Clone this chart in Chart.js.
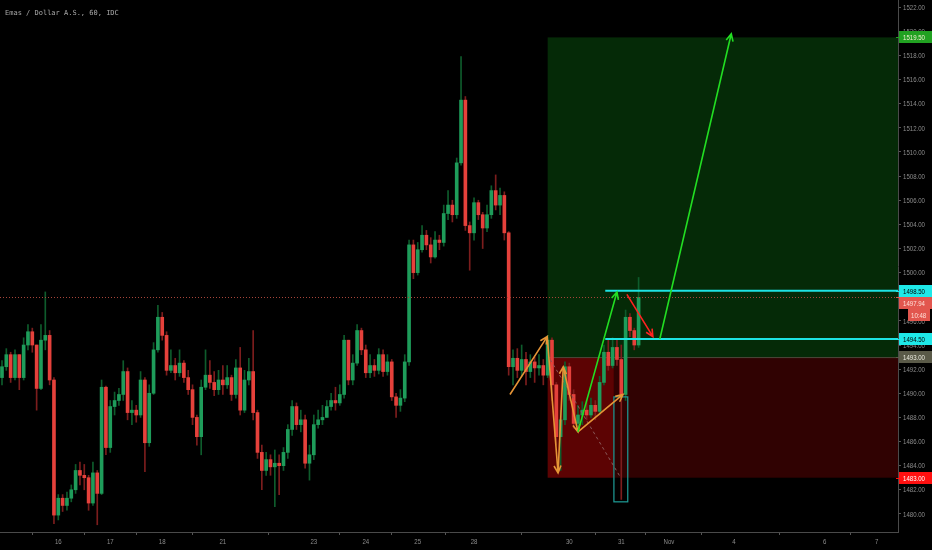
<!DOCTYPE html>
<html lang="id">
<head>
    <meta charset="UTF-8">
    <meta name="viewport" content="width=device-width, initial-scale=1.0">
    <title>Emas / Dollar A.S., 60, IDC</title>
    <style>
        html, body { margin: 0; padding: 0; background: #000; }
        canvas { display: block; }
    </style>
</head>
<body>
    <canvas id="grafico" width="932" height="550"></canvas>
</body>
</html>

<script src="https://cdn.jsdelivr.net/npm/chart.js"></script>
<script>
    // velas de 60 min, indice da barra 0..147
    var opens = [1491.3, 1492.2, 1493.2, 1491.3, 1493.2, 1491.3, 1494.0, 1495.1, 1494.0, 1490.4,
        1494.4, 1494.8, 1491.1, 1479.9, 1481.3, 1480.7, 1481.3, 1482.0, 1483.6, 1483.2,
        1483.0, 1480.9, 1483.4, 1481.7, 1490.5, 1485.5, 1488.9, 1489.4, 1489.9, 1491.8,
        1488.4, 1488.6, 1488.2, 1491.1, 1485.9, 1490.0, 1493.6, 1496.3, 1494.8, 1491.9,
        1492.3, 1491.7, 1492.5, 1491.3, 1490.3, 1488.0, 1486.4, 1490.5, 1491.5, 1490.9,
        1490.3, 1491.1, 1490.7, 1491.3, 1489.9, 1492.1, 1488.6, 1491.1, 1491.8, 1488.4,
        1485.1, 1483.6, 1484.5, 1483.9, 1484.2, 1484.0, 1485.1, 1487.0, 1488.9, 1487.4,
        1487.8, 1484.2, 1484.9, 1487.4, 1487.8, 1488.0, 1488.9, 1489.4, 1489.2, 1489.9,
        1494.4, 1491.1, 1492.5, 1495.2, 1493.6, 1491.7, 1492.3, 1491.9, 1493.2, 1491.8,
        1492.6, 1489.7, 1489.0, 1489.6, 1492.6, 1502.3, 1500.0, 1501.9, 1503.1, 1502.3,
        1501.3, 1502.7, 1502.5, 1504.9, 1505.6, 1504.8, 1509.1, 1514.3, 1503.9, 1503.3,
        1505.8, 1504.8, 1503.7, 1504.8, 1506.8, 1505.6, 1506.4, 1503.3, 1492.2, 1492.9,
        1491.9, 1492.8, 1491.8, 1492.6, 1492.1, 1492.3, 1491.5, 1494.4, 1490.7, 1486.4,
        1487.8, 1492.2, 1489.9, 1487.5, 1488.2, 1488.6, 1488.2, 1489.0, 1488.5, 1490.9,
        1493.4, 1492.3, 1493.8, 1492.8, 1489.9, 1496.3, 1495.2, 1494.0];

    var highs = [1492.7, 1493.7, 1493.4, 1493.6, 1493.2, 1494.6, 1495.7, 1495.4, 1494.0, 1495.7,
        1498.4, 1495.2, 1491.3, 1481.6, 1481.6, 1481.8, 1482.4, 1484.1, 1484.3, 1484.1,
        1483.2, 1484.3, 1483.6, 1491.1, 1490.6, 1489.4, 1490.1, 1490.4, 1492.7, 1492.1,
        1489.4, 1489.0, 1491.8, 1491.3, 1490.7, 1494.2, 1497.3, 1496.7, 1495.1, 1493.6,
        1492.9, 1493.6, 1492.7, 1491.9, 1490.7, 1488.2, 1491.1, 1493.6, 1492.7, 1491.8,
        1491.9, 1492.3, 1492.3, 1491.5, 1492.8, 1493.8, 1491.9, 1492.9, 1495.2, 1488.6,
        1485.7, 1485.1, 1484.9, 1485.3, 1484.9, 1485.5, 1487.4, 1489.4, 1489.2, 1488.6,
        1488.2, 1485.7, 1488.2, 1488.6, 1489.0, 1489.4, 1490.0, 1490.5, 1490.7, 1494.8,
        1494.4, 1493.2, 1495.7, 1495.4, 1494.0, 1493.2, 1492.8, 1493.7, 1493.6, 1493.2,
        1492.8, 1490.0, 1490.3, 1493.2, 1502.7, 1502.7, 1502.5, 1503.9, 1503.5, 1502.9,
        1503.4, 1503.1, 1505.6, 1506.8, 1506.0, 1509.5, 1517.9, 1514.6, 1504.2, 1506.2,
        1506.0, 1505.0, 1505.6, 1507.2, 1508.1, 1507.0, 1506.7, 1503.4, 1493.6, 1493.7,
        1494.0, 1493.4, 1493.2, 1493.0, 1493.2, 1492.8, 1494.8, 1494.6, 1490.9, 1488.6,
        1492.6, 1492.5, 1490.3, 1489.0, 1489.3, 1489.4, 1489.6, 1489.4, 1491.4, 1494.0,
        1494.4, 1494.6, 1494.4, 1494.0, 1496.9, 1496.6, 1495.4, 1499.6];

    var lows = [1490.7, 1491.9, 1490.9, 1491.1, 1490.3, 1491.1, 1493.6, 1493.4, 1488.6, 1490.3,
        1493.6, 1490.7, 1479.2, 1479.5, 1480.2, 1480.3, 1481.0, 1481.7, 1482.4, 1482.0,
        1480.3, 1480.7, 1479.1, 1481.6, 1484.9, 1485.1, 1488.2, 1489.0, 1489.4, 1487.8,
        1487.4, 1487.6, 1488.0, 1483.5, 1485.6, 1489.9, 1493.4, 1494.4, 1491.5, 1491.7,
        1491.1, 1491.4, 1490.9, 1489.9, 1487.4, 1485.7, 1484.9, 1490.3, 1490.4, 1489.8,
        1489.9, 1489.9, 1490.4, 1489.4, 1489.6, 1488.2, 1488.4, 1490.7, 1487.8, 1484.6,
        1482.0, 1483.2, 1483.2, 1480.6, 1481.6, 1483.6, 1484.6, 1486.5, 1487.0, 1486.8,
        1483.8, 1482.8, 1484.5, 1487.1, 1487.4, 1488.0, 1488.6, 1488.6, 1489.0, 1489.6,
        1490.7, 1490.7, 1492.3, 1493.2, 1491.3, 1491.3, 1491.4, 1491.6, 1491.4, 1491.5,
        1489.4, 1488.0, 1488.5, 1489.3, 1492.3, 1499.5, 1499.8, 1501.7, 1501.9, 1500.8,
        1501.2, 1501.9, 1502.2, 1504.4, 1504.2, 1504.5, 1508.9, 1503.5, 1500.2, 1502.7,
        1504.4, 1502.0, 1503.4, 1504.5, 1505.2, 1504.8, 1502.7, 1491.5, 1490.7, 1491.3,
        1491.4, 1490.7, 1491.3, 1490.9, 1491.5, 1490.7, 1491.3, 1489.4, 1485.7, 1483.6,
        1487.4, 1489.4, 1487.1, 1486.8, 1487.4, 1487.8, 1488.0, 1487.8, 1488.2, 1490.7,
        1491.9, 1492.1, 1492.3, 1481.2, 1489.4, 1494.7, 1493.6, 1493.8];

    var closes = [1492.2, 1493.2, 1491.3, 1493.2, 1491.3, 1494.0, 1495.1, 1494.0, 1490.4, 1494.4,
        1494.8, 1491.1, 1479.9, 1481.3, 1480.7, 1481.3, 1482.0, 1483.6, 1483.2, 1483.0,
        1480.9, 1483.4, 1481.7, 1490.5, 1485.5, 1488.9, 1489.4, 1489.9, 1491.8, 1488.4,
        1488.6, 1488.2, 1491.1, 1485.9, 1490.0, 1493.6, 1496.3, 1494.8, 1491.9, 1492.3,
        1491.7, 1492.5, 1491.3, 1490.3, 1488.0, 1486.4, 1490.5, 1491.5, 1490.9, 1490.3,
        1491.1, 1490.7, 1491.3, 1489.9, 1492.1, 1488.6, 1491.1, 1491.8, 1488.4, 1485.1,
        1483.6, 1484.5, 1483.9, 1484.2, 1484.0, 1485.1, 1487.0, 1488.9, 1487.4, 1487.8,
        1484.2, 1484.9, 1487.4, 1487.8, 1488.0, 1488.9, 1489.4, 1489.2, 1489.9, 1494.4,
        1491.1, 1492.5, 1495.2, 1493.6, 1491.7, 1492.3, 1491.9, 1493.2, 1491.8, 1492.6,
        1489.7, 1489.0, 1489.6, 1492.6, 1502.3, 1500.0, 1501.9, 1503.1, 1502.3, 1501.3,
        1502.7, 1502.5, 1504.9, 1505.6, 1504.8, 1509.1, 1514.3, 1503.9, 1503.3, 1505.8,
        1504.8, 1503.7, 1504.8, 1506.8, 1505.6, 1506.4, 1503.3, 1492.2, 1492.9, 1491.9,
        1492.8, 1491.8, 1492.6, 1492.1, 1492.3, 1491.5, 1494.4, 1490.7, 1486.4, 1487.8,
        1492.2, 1489.9, 1487.5, 1488.2, 1488.6, 1488.2, 1489.0, 1488.5, 1490.9, 1493.4,
        1492.3, 1493.8, 1492.8, 1489.9, 1496.3, 1495.2, 1494.0, 1497.94];

    // primeira barra de cada dia (eixo de tempo)
    var dayStarts = [13, 25, 37, 51, 72, 84, 96, 109, 131, 143, 154, 169, 190, 202];
    var dayLabels = ['16', '17', '18', '21', '23', '24', '25', '28', '30', '31', 'Nov', '4', '6', '7'];

    // posicao long desenhada: entrada, alvo, stop
    var lastPrice = 1497.94;
    var entryPrice = 1493.00;
    var targetPrice = 1519.50;
    var stopPrice = 1483.00;
    var levelPrices = [1498.50, 1494.50];
    var positionBars = [126, 141.3];      // inicio da caixa, fim da parte vermelha clara
    var levelStartBar = 139.3;
    var spikeBox = [141.3, 144.5, 1489.7, 1481.0];

    // setas [barra1, preco1, barra2, preco2]
    var orangeArrows = [
        [117.3, 1489.9, 125.9, 1494.7],
        [125.9, 1494.7, 128.4, 1483.4],
        [128.4, 1483.4, 129.6, 1492.2],
        [129.6, 1492.2, 133.0, 1486.8],
        [133.0, 1486.8, 143.4, 1489.9]
    ];
    var greenArrows = [
        [133.0, 1486.8, 142.0, 1498.4],
        [151.9, 1494.5, 168.4, 1519.8]
    ];
    var redArrows = [
        [144.3, 1498.2, 150.3, 1494.7]
    ];
    var dashedLine = [126.6, 1492.8, 142.7, 1483.1];

    var sobe = function (i) { return closes[i] >= opens[i]; };
    var corpos = closes.map(function (c, i) { return { x: i, y: [opens[i], c] }; });
    var pavios = closes.map(function (c, i) { return { x: i, y: [lows[i], highs[i]] }; });

    var FONTE = '8px "Liberation Sans", Arial, sans-serif';

    // texto estreito, como o da plataforma
    function textoEstreito(ctx, txt, x, y) {
        ctx.save();
        ctx.translate(x, y);
        ctx.scale(0.76, 1);
        ctx.fillText(txt, 0, 0);
        ctx.restore();
    }

    function seta(ctx, x1, y1, x2, y2, cor) {
        var ang = Math.atan2(y2 - y1, x2 - x1);
        var tam = 8;
        ctx.strokeStyle = cor;
        ctx.lineWidth = 1.6;
        ctx.setLineDash([]);
        ctx.beginPath();
        ctx.moveTo(x1, y1);
        ctx.lineTo(x2, y2);
        ctx.moveTo(x2 - tam * Math.cos(ang - 0.45), y2 - tam * Math.sin(ang - 0.45));
        ctx.lineTo(x2, y2);
        ctx.lineTo(x2 - tam * Math.cos(ang + 0.45), y2 - tam * Math.sin(ang + 0.45));
        ctx.stroke();
    }

    var desenhos = {
        id: 'desenhos',
        beforeDraw: function (chart) {
            var ctx = chart.ctx;
            ctx.save();
            ctx.fillStyle = '#000';
            ctx.fillRect(0, 0, chart.width, chart.height);
            ctx.restore();
        },
        beforeDatasetsDraw: function (chart) {
            var ctx = chart.ctx, a = chart.chartArea, sx = chart.scales.x, sy = chart.scales.y;
            var x0 = sx.getPixelForValue(positionBars[0]);
            var xs = sx.getPixelForValue(positionBars[1]);
            var yT = sy.getPixelForValue(targetPrice);
            var yE = sy.getPixelForValue(entryPrice);
            var yS = sy.getPixelForValue(stopPrice);
            ctx.save();
            ctx.fillStyle = '#052a07';
            ctx.fillRect(x0, yT, a.right - x0, yE - yT);
            ctx.fillStyle = '#5c0303';
            ctx.fillRect(x0, yE, xs - x0, yS - yE);
            ctx.fillStyle = '#300202';
            ctx.fillRect(xs, yE, a.right - xs, yS - yE);
            ctx.strokeStyle = '#4a4a3a';
            ctx.lineWidth = 1;
            ctx.beginPath();
            ctx.moveTo(x0, yE + 0.5);
            ctx.lineTo(a.right, yE + 0.5);
            ctx.stroke();
            ctx.restore();
        },
        afterDatasetsDraw: function (chart) {
            var ctx = chart.ctx, a = chart.chartArea, sx = chart.scales.x, sy = chart.scales.y;
            var px = function (b) { return sx.getPixelForValue(b); };
            var py = function (p) { return sy.getPixelForValue(p); };
            ctx.save();
            ctx.beginPath();
            ctx.rect(a.left, a.top, a.right - a.left, a.bottom - a.top);
            ctx.clip();

            // linha do ultimo preco
            ctx.strokeStyle = '#a8453a';
            ctx.lineWidth = 1;
            ctx.setLineDash([1, 2]);
            ctx.beginPath();
            ctx.moveTo(a.left, Math.round(py(lastPrice)) + 0.5);
            ctx.lineTo(a.right, Math.round(py(lastPrice)) + 0.5);
            ctx.stroke();

            // niveis ciano
            ctx.setLineDash([]);
            ctx.strokeStyle = '#1ee3e3';
            ctx.lineWidth = 2;
            levelPrices.forEach(function (p) {
                ctx.beginPath();
                ctx.moveTo(px(levelStartBar), py(p));
                ctx.lineTo(a.right, py(p));
                ctx.stroke();
            });

            // caixa do pavio
            ctx.strokeStyle = '#1e9e98';
            ctx.lineWidth = 1.2;
            ctx.strokeRect(px(spikeBox[0]), py(spikeBox[2]), px(spikeBox[1]) - px(spikeBox[0]), py(spikeBox[3]) - py(spikeBox[2]));

            // linha tracejada
            ctx.strokeStyle = '#8a5a5a';
            ctx.lineWidth = 1;
            ctx.setLineDash([3, 3]);
            ctx.beginPath();
            ctx.moveTo(px(dashedLine[0]), py(dashedLine[1]));
            ctx.lineTo(px(dashedLine[2]), py(dashedLine[3]));
            ctx.stroke();

            orangeArrows.forEach(function (s) { seta(ctx, px(s[0]), py(s[1]), px(s[2]), py(s[3]), '#e59436'); });
            greenArrows.forEach(function (s) { seta(ctx, px(s[0]), py(s[1]), px(s[2]), py(s[3]), '#22dd22'); });
            redArrows.forEach(function (s) { seta(ctx, px(s[0]), py(s[1]), px(s[2]), py(s[3]), '#ff2222'); });
            ctx.restore();
        },
        afterDraw: function (chart) {
            var ctx = chart.ctx, a = chart.chartArea, sx = chart.scales.x, sy = chart.scales.y;
            ctx.save();
            ctx.font = FONTE;
            ctx.fillStyle = '#8c8c8c';

            // rotulos dos eixos (valores vindos das escalas)
            ctx.textBaseline = 'middle';
            ctx.textAlign = 'left';
            sy.ticks.forEach(function (t) {
                textoEstreito(ctx, t.value.toFixed(2), a.right + 5, sy.getPixelForValue(t.value) + 0.5);
            });
            ctx.textAlign = 'center';
            sx.ticks.forEach(function (t, i) {
                textoEstreito(ctx, dayLabels[i], sx.getPixelForValue(t.value), a.bottom + 10);
            });

            var etiquetas = [
                { preco: targetPrice, fundo: '#21a121', texto: '#f0f0d0' },
                { preco: levelPrices[0], fundo: '#1ee8e8', texto: '#000' },
                { preco: lastPrice, fundo: '#e2564e', texto: '#ffe0d8', contador: '10:48' },
                { preco: levelPrices[1], fundo: '#1ee8e8', texto: '#000' },
                { preco: entryPrice, fundo: '#5a5a48', texto: '#ecece0' },
                { preco: stopPrice, fundo: '#ff1010', texto: '#fff' }
            ];
            // empurra para baixo as etiquetas que se sobrepoem
            var ultimo = -100;
            etiquetas.forEach(function (e) {
                var y = Math.round(sy.getPixelForValue(e.preco));
                if (y - ultimo < 12) y = ultimo + 12;
                e.y = y;
                ultimo = e.contador ? y + 12 : y;
            });
            ctx.textAlign = 'left';
            etiquetas.forEach(function (e) {
                var y = e.y;
                var yReal = Math.round(sy.getPixelForValue(e.preco));
                ctx.fillStyle = e.fundo;
                ctx.fillRect(a.right + 1, y - 6, chart.width - a.right - 1, 12);
                ctx.fillRect(a.right - 2, yReal, 3, 1);
                ctx.fillStyle = e.texto;
                textoEstreito(ctx, e.preco.toFixed(2), a.right + 5, y + 0.5);
                if (e.contador) {
                    // contagem regressiva da vela
                    ctx.fillStyle = e.fundo;
                    ctx.fillRect(a.right + 10, y + 6, 22, 12);
                    ctx.fillStyle = e.texto;
                    textoEstreito(ctx, e.contador, a.right + 13, y + 12.5);
                }
            });

            // titulo
            ctx.font = '7px "DejaVu Sans Mono", monospace';
            ctx.fillStyle = '#a8a8a8';
            ctx.textBaseline = 'alphabetic';
            ctx.fillText('Emas / Dollar A.S., 60, IDC', 5, 15);
            ctx.restore();
        }
    };

    new Chart(document.getElementById('grafico'), {
        type: 'bar',
        data: {
            datasets: [{
                label: 'pavios',
                data: pavios,
                backgroundColor: function (c) { return sobe(c.dataIndex) ? '#0e5c2c' : '#7c1d1d'; },
                barThickness: 1,
                grouped: false,
                order: 2
            }, {
                label: 'corpos',
                data: corpos,
                backgroundColor: function (c) { return sobe(c.dataIndex) ? '#1e9c5a' : '#e5413b'; },
                barThickness: 3,
                grouped: false,
                order: 1
            }]
        },
        options: {
            responsive: false,
            animation: false,
            layout: { padding: 0 },
            plugins: {
                legend: { display: false },
                tooltip: { enabled: false }
            },
            scales: {
                x: {
                    type: 'linear',
                    min: -0.46,
                    max: 206.9,
                    offset: false,
                    afterBuildTicks: function (scale) {
                        scale.ticks = dayStarts.map(function (v) { return { value: v }; });
                    },
                    afterFit: function (scale) { scale.height = 18; },
                    grid: { drawOnChartArea: false, color: '#555', tickLength: 3 },
                    border: { display: true, color: '#4a4a4a' },
                    ticks: { display: false, autoSkip: false }
                },
                y: {
                    type: 'linear',
                    position: 'right',
                    min: 1478.5,
                    max: 1522.6,
                    afterFit: function (scale) { scale.width = 34; },
                    grid: { drawOnChartArea: false, color: '#555', tickLength: 3 },
                    border: { display: true, color: '#4a4a4a' },
                    ticks: { display: false, stepSize: 2, includeBounds: false }
                }
            }
        },
        plugins: [desenhos]
    });
</script>
